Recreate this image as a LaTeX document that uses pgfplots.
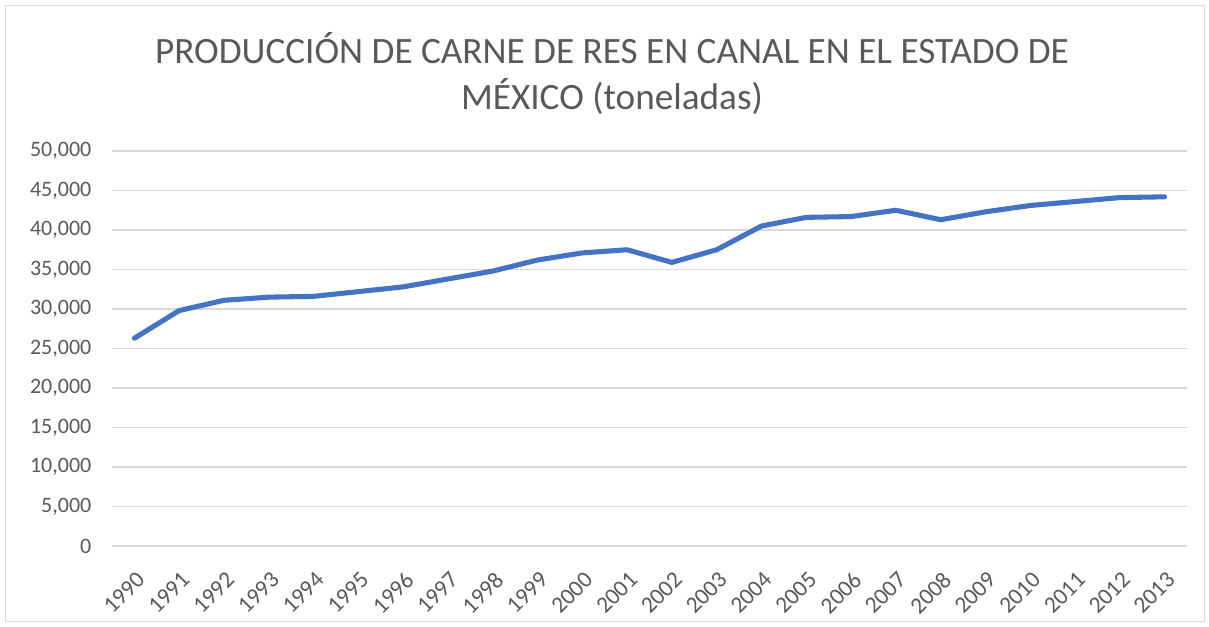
\documentclass[border=0pt]{standalone}
\usepackage{pgfplots}
\pgfplotsset{compat=1.18}
\usepackage{fontspec}
\setmainfont{Carlito}
\definecolor{lineblue}{RGB}{68,114,196}
\definecolor{txtgray}{RGB}{89,89,89}
\definecolor{gridgray}{RGB}{217,217,217}
\begin{document}
\begin{tikzpicture}
\useasboundingbox (-84pt,-60.75pt) rectangle (822.75pt,409.5pt);
\draw[gridgray, line width=0.75pt] (-80pt,-57pt) rectangle (819pt,405.5pt);
\begin{axis}[
    at={(0,0)}, anchor=south west,
    scale only axis,
    width=806.25pt,
    height=296.25pt,
    xmin=1989.5, xmax=2013.5,
    ymin=0, ymax=50000,
    xtick={1990,...,2013},
    ytick={0,5000,...,50000},
    axis line style={draw=none},
    major tick length=0pt,
    ymajorgrids,
    grid style={gridgray, line width=0.9pt},
    x axis line style={draw=gridgray, line width=0.9pt},
    axis x line*=bottom,
    scaled y ticks=false,
    /pgf/number format/assume math mode=true,
    yticklabel style={/pgf/number format/1000 sep={,}, font=\fontsize{16.5}{19}\selectfont, color=txtgray, xshift=-12pt},
    xticklabel style={/pgf/number format/1000 sep={}, font=\fontsize{17.5}{20}\selectfont, color=txtgray, rotate=45, anchor=north east, xshift=-9pt, yshift=-10pt},
    clip=false,
]
\addplot[lineblue, line width=3.8pt, line join=round, line cap=round] coordinates {
    (1990,26300) (1991,29800) (1992,31100) (1993,31500) (1994,31600)
    (1995,32200) (1996,32800) (1997,33800) (1998,34800) (1999,36200)
    (2000,37100) (2001,37500) (2002,35900) (2003,37500) (2004,40500)
    (2005,41600) (2006,41700) (2007,42500) (2008,41300) (2009,42300)
    (2010,43100) (2011,43600) (2012,44100) (2013,44200)
};
\end{axis}
\node[align=center, color=txtgray, font=\fontsize{27.9}{35}\selectfont] at (375pt,354.4pt)
  {PRODUCCIÓN DE CARNE DE RES EN CANAL EN EL ESTADO DE\\MÉXICO (toneladas)};
\end{tikzpicture}
\end{document}
